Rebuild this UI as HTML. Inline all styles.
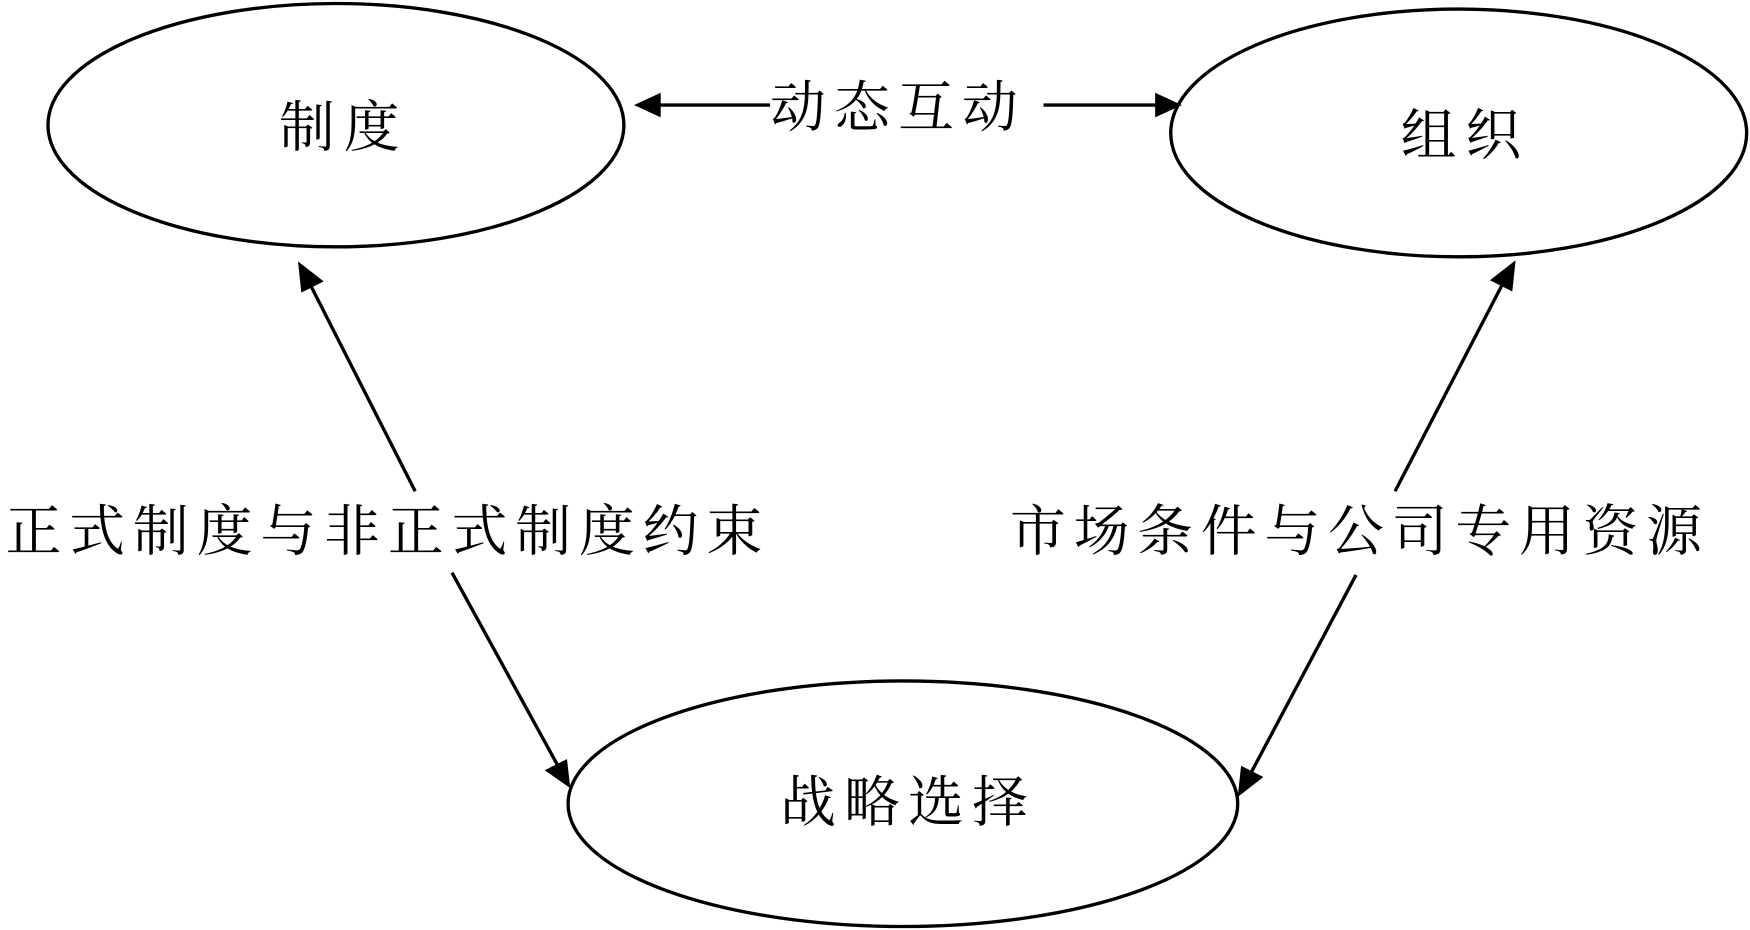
<!DOCTYPE html>
<html><head><meta charset="utf-8"><style>
html,body{margin:0;padding:0;background:#fff;}
svg{display:block;}
text{font-family:"Liberation Serif","Noto Serif CJK SC",serif;font-size:50px;fill:#000;dominant-baseline:central;}
</style></head><body>
<svg width="1750" height="930" viewBox="0 0 1568 833" xmlns="http://www.w3.org/2000/svg">
<g fill="none" stroke="#000" stroke-width="3">
<ellipse cx="301" cy="112" rx="258" ry="109"/>
<ellipse cx="1307" cy="119" rx="258" ry="111"/>
<ellipse cx="809" cy="720" rx="300" ry="110"/>
<line x1="590" y1="94" x2="690" y2="94"/>
<line x1="935" y1="94" x2="1037" y2="94"/>
<line x1="372" y1="440" x2="277" y2="253"/>
<line x1="405" y1="513" x2="501" y2="688"/>
<line x1="1250" y1="440" x2="1347" y2="253"/>
<line x1="1215" y1="515" x2="1120" y2="694"/>
</g>
<g fill="#000">
<polygon points="568,94 592,83 592,105"/>
<polygon points="1059,94 1035,83 1035,105"/>
<polygon points="267,234 270,262 290,252"/>
<polygon points="511,706 488,690 508,680"/>
<polygon points="1358,233 1335,251 1355,261"/>
<polygon points="1109,714 1112,686 1132,696"/>
</g>
<text x="250" y="115" textLength="108" lengthAdjust="spacing">制度</text>
<text x="1255" y="122" textLength="108" lengthAdjust="spacing">组织</text>
<text x="699" y="720" textLength="222" lengthAdjust="spacing">战略选择</text>
<text x="690" y="97" textLength="222" lengthAdjust="spacing">动态互动</text>
<text x="5" y="477" textLength="678" lengthAdjust="spacing">正式制度与非正式制度约束</text>
<text x="905" y="477" textLength="620" lengthAdjust="spacing">市场条件与公司专用资源</text>
</svg>
</body></html>
